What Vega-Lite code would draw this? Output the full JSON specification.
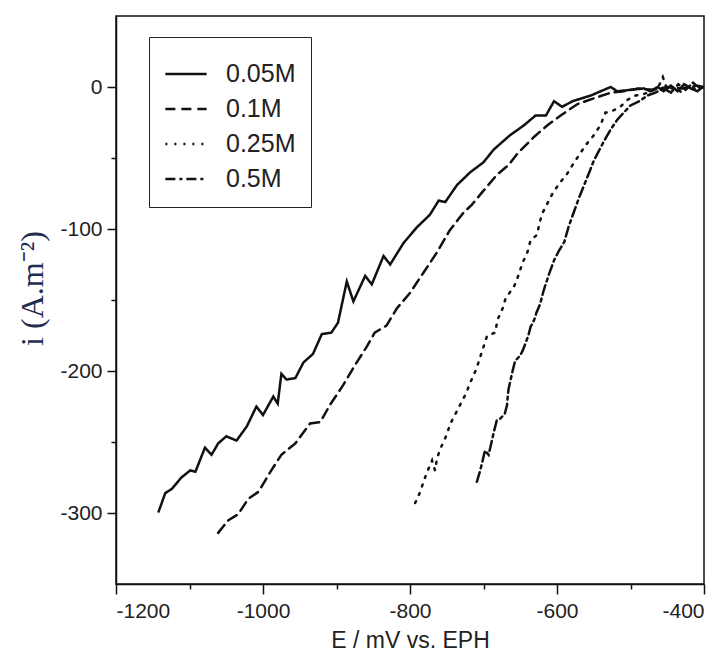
{
  "$schema": "https://vega.github.io/schema/vega-lite/v6.json",
  "width": 588,
  "height": 568,
  "autosize": {"type": "none"},
  "padding": {"left": 116, "top": 16, "right": 22, "bottom": 72},
  "background": "white",
  "config": {
    "view": {"stroke": "#111", "strokeWidth": 1.5},
    "axis": {
      "domainColor": "#111", "domainWidth": 1.5, "tickColor": "#111", "tickWidth": 1.5,
      "labelFont": "Liberation Sans", "labelFontSize": 21, "labelColor": "#222",
      "grid": false
    },
    "legend": {
      "orient": "none", "legendX": 33, "legendY": 21,
      "strokeColor": "#222", "fillColor": "white", "padding": 15, "rowPadding": 0,
      "symbolType": "stroke", "symbolSize": 1700, "symbolStrokeWidth": 2.5,
      "symbolStrokeColor": "#111", "labelFont": "Liberation Sans", "labelFontSize": 25,
      "labelColor": "#222", "labelOffset": 18
    }
  },
  "data": {"values": [
    {"s":"0.05M","E":-1142,"i":-299},{"s":"0.05M","E":-1133,"i":-286},{"s":"0.05M","E":-1124,"i":-283},{"s":"0.05M","E":-1111,"i":-275},{"s":"0.05M","E":-1099,"i":-270},{"s":"0.05M","E":-1092,"i":-271},{"s":"0.05M","E":-1079,"i":-254},{"s":"0.05M","E":-1070,"i":-259},{"s":"0.05M","E":-1061,"i":-251},{"s":"0.05M","E":-1050,"i":-246},{"s":"0.05M","E":-1036,"i":-249},{"s":"0.05M","E":-1022,"i":-239},{"s":"0.05M","E":-1009,"i":-225},{"s":"0.05M","E":-1000,"i":-231},{"s":"0.05M","E":-986,"i":-218},{"s":"0.05M","E":-980,"i":-223},{"s":"0.05M","E":-975,"i":-202},{"s":"0.05M","E":-968,"i":-206},{"s":"0.05M","E":-956,"i":-205},{"s":"0.05M","E":-945,"i":-194},{"s":"0.05M","E":-932,"i":-188},{"s":"0.05M","E":-920,"i":-174},{"s":"0.05M","E":-907,"i":-173},{"s":"0.05M","E":-898,"i":-166},{"s":"0.05M","E":-886,"i":-137},{"s":"0.05M","E":-877,"i":-151},{"s":"0.05M","E":-861,"i":-133},{"s":"0.05M","E":-852,"i":-139},{"s":"0.05M","E":-836,"i":-119},{"s":"0.05M","E":-827,"i":-125},{"s":"0.05M","E":-809,"i":-110},{"s":"0.05M","E":-791,"i":-99},{"s":"0.05M","E":-773,"i":-90},{"s":"0.05M","E":-761,"i":-80},{"s":"0.05M","E":-752,"i":-81},{"s":"0.05M","E":-736,"i":-69},{"s":"0.05M","E":-718,"i":-60},{"s":"0.05M","E":-700,"i":-53},{"s":"0.05M","E":-686,"i":-44},{"s":"0.05M","E":-664,"i":-34},{"s":"0.05M","E":-645,"i":-27},{"s":"0.05M","E":-629,"i":-20},{"s":"0.05M","E":-615,"i":-20},{"s":"0.05M","E":-604,"i":-10},{"s":"0.05M","E":-593,"i":-14},{"s":"0.05M","E":-579,"i":-10},{"s":"0.05M","E":-554,"i":-6},{"s":"0.05M","E":-527,"i":0},{"s":"0.05M","E":-518,"i":-3},{"s":"0.05M","E":-500,"i":-2},{"s":"0.05M","E":-482,"i":-1},{"s":"0.05M","E":-473,"i":-3},{"s":"0.05M","E":-463,"i":0},{"s":"0.05M","E":-455,"i":-3},{"s":"0.05M","E":-445,"i":1},{"s":"0.05M","E":-436,"i":-3},{"s":"0.05M","E":-427,"i":2},{"s":"0.05M","E":-418,"i":-1},{"s":"0.05M","E":-409,"i":-3},{"s":"0.05M","E":-402,"i":0},
    {"s":"0.1M","E":-1061,"i":-314},{"s":"0.1M","E":-1047,"i":-305},{"s":"0.1M","E":-1034,"i":-301},{"s":"0.1M","E":-1020,"i":-290},{"s":"0.1M","E":-1006,"i":-285},{"s":"0.1M","E":-990,"i":-271},{"s":"0.1M","E":-975,"i":-259},{"s":"0.1M","E":-956,"i":-251},{"s":"0.1M","E":-936,"i":-237},{"s":"0.1M","E":-922,"i":-236},{"s":"0.1M","E":-909,"i":-224},{"s":"0.1M","E":-891,"i":-210},{"s":"0.1M","E":-875,"i":-196},{"s":"0.1M","E":-859,"i":-183},{"s":"0.1M","E":-848,"i":-173},{"s":"0.1M","E":-832,"i":-168},{"s":"0.1M","E":-818,"i":-156},{"s":"0.1M","E":-800,"i":-145},{"s":"0.1M","E":-782,"i":-131},{"s":"0.1M","E":-764,"i":-117},{"s":"0.1M","E":-746,"i":-101},{"s":"0.1M","E":-728,"i":-89},{"s":"0.1M","E":-716,"i":-83},{"s":"0.1M","E":-700,"i":-73},{"s":"0.1M","E":-682,"i":-62},{"s":"0.1M","E":-666,"i":-55},{"s":"0.1M","E":-654,"i":-47},{"s":"0.1M","E":-631,"i":-35},{"s":"0.1M","E":-613,"i":-27},{"s":"0.1M","E":-595,"i":-20},{"s":"0.1M","E":-572,"i":-12},{"s":"0.1M","E":-550,"i":-8},{"s":"0.1M","E":-527,"i":-4},{"s":"0.1M","E":-509,"i":-3},{"s":"0.1M","E":-490,"i":-1},{"s":"0.1M","E":-470,"i":-2},{"s":"0.1M","E":-450,"i":0},{"s":"0.1M","E":-430,"i":-1},{"s":"0.1M","E":-410,"i":1},{"s":"0.1M","E":-400,"i":0},
    {"s":"0.25M","E":-793,"i":-293},{"s":"0.25M","E":-786,"i":-285},{"s":"0.25M","E":-781,"i":-277},{"s":"0.25M","E":-775,"i":-269},{"s":"0.25M","E":-770,"i":-263},{"s":"0.25M","E":-766,"i":-270},{"s":"0.25M","E":-763,"i":-261},{"s":"0.25M","E":-758,"i":-254},{"s":"0.25M","E":-751,"i":-246},{"s":"0.25M","E":-745,"i":-237},{"s":"0.25M","E":-738,"i":-230},{"s":"0.25M","E":-731,"i":-223},{"s":"0.25M","E":-724,"i":-216},{"s":"0.25M","E":-717,"i":-207},{"s":"0.25M","E":-710,"i":-199},{"s":"0.25M","E":-705,"i":-191},{"s":"0.25M","E":-700,"i":-183},{"s":"0.25M","E":-695,"i":-175},{"s":"0.25M","E":-684,"i":-173},{"s":"0.25M","E":-681,"i":-164},{"s":"0.25M","E":-674,"i":-156},{"s":"0.25M","E":-670,"i":-149},{"s":"0.25M","E":-658,"i":-140},{"s":"0.25M","E":-652,"i":-132},{"s":"0.25M","E":-647,"i":-124},{"s":"0.25M","E":-640,"i":-116},{"s":"0.25M","E":-636,"i":-108},{"s":"0.25M","E":-627,"i":-104},{"s":"0.25M","E":-624,"i":-96},{"s":"0.25M","E":-620,"i":-89},{"s":"0.25M","E":-613,"i":-82},{"s":"0.25M","E":-606,"i":-75},{"s":"0.25M","E":-597,"i":-68},{"s":"0.25M","E":-586,"i":-61},{"s":"0.25M","E":-579,"i":-55},{"s":"0.25M","E":-570,"i":-48},{"s":"0.25M","E":-561,"i":-41},{"s":"0.25M","E":-550,"i":-34},{"s":"0.25M","E":-541,"i":-27},{"s":"0.25M","E":-534,"i":-18},{"s":"0.25M","E":-529,"i":-18},{"s":"0.25M","E":-514,"i":-14},{"s":"0.25M","E":-504,"i":-9},{"s":"0.25M","E":-493,"i":-6},{"s":"0.25M","E":-482,"i":-5},{"s":"0.25M","E":-472,"i":-3},{"s":"0.25M","E":-463,"i":-1},{"s":"0.25M","E":-456,"i":7},{"s":"0.25M","E":-450,"i":-2},{"s":"0.25M","E":-440,"i":0},{"s":"0.25M","E":-430,"i":-4},{"s":"0.25M","E":-420,"i":1},{"s":"0.25M","E":-410,"i":-2},{"s":"0.25M","E":-400,"i":0},
    {"s":"0.5M","E":-709,"i":-278},{"s":"0.5M","E":-705,"i":-271},{"s":"0.5M","E":-702,"i":-265},{"s":"0.5M","E":-698,"i":-256},{"s":"0.5M","E":-693,"i":-259},{"s":"0.5M","E":-689,"i":-250},{"s":"0.5M","E":-686,"i":-243},{"s":"0.5M","E":-682,"i":-235},{"s":"0.5M","E":-678,"i":-234},{"s":"0.5M","E":-671,"i":-230},{"s":"0.5M","E":-668,"i":-224},{"s":"0.5M","E":-667,"i":-218},{"s":"0.5M","E":-666,"i":-213},{"s":"0.5M","E":-663,"i":-206},{"s":"0.5M","E":-660,"i":-199},{"s":"0.5M","E":-657,"i":-193},{"s":"0.5M","E":-650,"i":-189},{"s":"0.5M","E":-647,"i":-186},{"s":"0.5M","E":-644,"i":-182},{"s":"0.5M","E":-639,"i":-175},{"s":"0.5M","E":-636,"i":-169},{"s":"0.5M","E":-631,"i":-164},{"s":"0.5M","E":-628,"i":-159},{"s":"0.5M","E":-623,"i":-153},{"s":"0.5M","E":-618,"i":-143},{"s":"0.5M","E":-611,"i":-132},{"s":"0.5M","E":-604,"i":-122},{"s":"0.5M","E":-597,"i":-115},{"s":"0.5M","E":-590,"i":-109},{"s":"0.5M","E":-584,"i":-98},{"s":"0.5M","E":-577,"i":-88},{"s":"0.5M","E":-570,"i":-78},{"s":"0.5M","E":-563,"i":-69},{"s":"0.5M","E":-556,"i":-60},{"s":"0.5M","E":-550,"i":-52},{"s":"0.5M","E":-543,"i":-45},{"s":"0.5M","E":-536,"i":-38},{"s":"0.5M","E":-527,"i":-30},{"s":"0.5M","E":-518,"i":-23},{"s":"0.5M","E":-509,"i":-18},{"s":"0.5M","E":-500,"i":-13},{"s":"0.5M","E":-488,"i":-10},{"s":"0.5M","E":-477,"i":-6},{"s":"0.5M","E":-466,"i":-4},{"s":"0.5M","E":-455,"i":-1},{"s":"0.5M","E":-445,"i":-4},{"s":"0.5M","E":-435,"i":2},{"s":"0.5M","E":-425,"i":-2},{"s":"0.5M","E":-415,"i":3},{"s":"0.5M","E":-405,"i":-1}
  ]},
  "resolve": {"axis": {"x": "independent", "y": "independent"}},
  "layer": [
    {
      "mark": {"type": "line", "stroke": "#111", "strokeWidth": 2.5, "strokeCap": "round", "clip": true},
      "encoding": {
        "x": {"field": "E", "type": "quantitative",
          "scale": {"domain": [-1200, -400], "nice": false, "zero": false},
          "axis": {"orient": "bottom", "values": [-1200, -1000, -800, -600, -400], "tickSize": 10, "labelPadding": 6,
            "labelExpr": "'' + datum.value",
            "title": "E / mV vs. EPH", "titleFont": "Liberation Sans", "titleFontSize": 23, "titleFontWeight": "normal",
            "titleColor": "#222", "titleY": 45, "titleBaseline": "top"}},
        "y": {"field": "i", "type": "quantitative",
          "scale": {"domain": [-350, 50], "nice": false, "zero": false},
          "axis": {"orient": "left", "values": [-300, -200, -100, 0], "tickSize": 9, "labelPadding": 5,
            "labelExpr": "'' + datum.value",
            "title": "i (A.m⁻²)", "titleFont": "Liberation Serif", "titleFontSize": 32, "titleFontWeight": "normal",
            "titleColor": "#1f2d50", "titleX": -84, "titleY": 272, "titleAlign": "center", "titleBaseline": "middle", "titleAngle": -90}},
        "strokeDash": {"field": "s", "type": "nominal", "title": null,
          "scale": {"domain": ["0.05M", "0.1M", "0.25M", "0.5M"], "range": [[1, 0], [10, 6], [2, 7], [10, 4, 3, 4]]}}
      }
    },
    {
      "mark": {"type": "point", "opacity": 0},
      "encoding": {
        "x": {"field": "E", "type": "quantitative",
          "axis": {"orient": "bottom", "values": [-1100, -900, -700, -500], "tickSize": 5, "labels": false, "domain": false, "title": null}},
        "y": {"field": "i", "type": "quantitative",
          "axis": {"orient": "left", "values": [-250, -150, -50], "tickSize": 5, "labels": false, "domain": false, "title": null}}
      }
    }
  ]
}
